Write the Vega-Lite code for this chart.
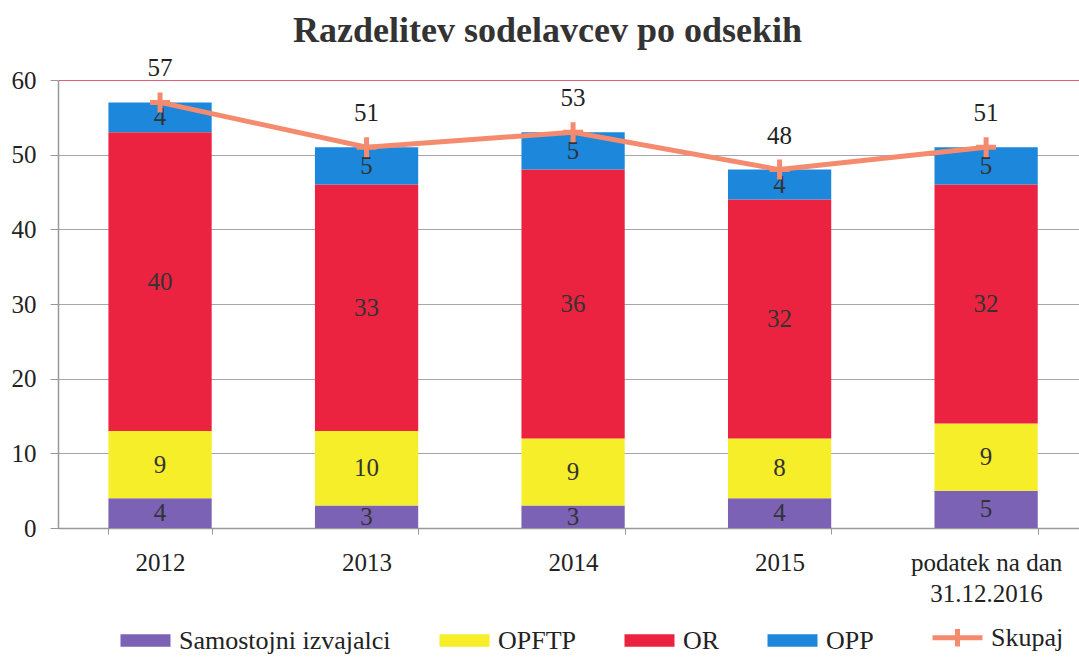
{
  "$schema": "https://vega.github.io/schema/vega-lite/v6.json",
  "width": 1021,
  "height": 448,
  "autosize": {"type": "none"},
  "padding": {"left": 58, "top": 80, "right": 0, "bottom": 131},
  "background": "white",
  "title": {
    "text": "Razdelitev sodelavcev  po odsekih",
    "font": "Liberation Serif",
    "fontSize": 36,
    "fontWeight": "bold",
    "color": "#333333",
    "anchor": "middle",
    "frame": "group",
    "dx": -21,
    "offset": 6
  },
  "datasets": {
    "bars": [
      {"leto": "2012", "kat": "Samostojni izvajalci", "n": 1, "st": 4},
      {"leto": "2012", "kat": "OPFTP", "n": 2, "st": 9},
      {"leto": "2012", "kat": "OR", "n": 3, "st": 40},
      {"leto": "2012", "kat": "OPP", "n": 4, "st": 4},
      {"leto": "2013", "kat": "Samostojni izvajalci", "n": 1, "st": 3},
      {"leto": "2013", "kat": "OPFTP", "n": 2, "st": 10},
      {"leto": "2013", "kat": "OR", "n": 3, "st": 33},
      {"leto": "2013", "kat": "OPP", "n": 4, "st": 5},
      {"leto": "2014", "kat": "Samostojni izvajalci", "n": 1, "st": 3},
      {"leto": "2014", "kat": "OPFTP", "n": 2, "st": 9},
      {"leto": "2014", "kat": "OR", "n": 3, "st": 36},
      {"leto": "2014", "kat": "OPP", "n": 4, "st": 5},
      {"leto": "2015", "kat": "Samostojni izvajalci", "n": 1, "st": 4},
      {"leto": "2015", "kat": "OPFTP", "n": 2, "st": 8},
      {"leto": "2015", "kat": "OR", "n": 3, "st": 32},
      {"leto": "2015", "kat": "OPP", "n": 4, "st": 4},
      {"leto": "podatek na dan 31.12.2016", "kat": "Samostojni izvajalci", "n": 1, "st": 5},
      {"leto": "podatek na dan 31.12.2016", "kat": "OPFTP", "n": 2, "st": 9},
      {"leto": "podatek na dan 31.12.2016", "kat": "OR", "n": 3, "st": 32},
      {"leto": "podatek na dan 31.12.2016", "kat": "OPP", "n": 4, "st": 5}
    ],
    "skupaj": [
      {"leto": "2012", "skupaj": 57},
      {"leto": "2013", "skupaj": 51},
      {"leto": "2014", "skupaj": 53},
      {"leto": "2015", "skupaj": 48},
      {"leto": "podatek na dan 31.12.2016", "skupaj": 51}
    ]
  },
  "encoding": {
    "x": {
      "field": "leto",
      "type": "nominal",
      "sort": null,
      "title": null,
      "scale": {"paddingInner": 0.5, "paddingOuter": 0.222, "align": 0.55},
      "axis": {
        "labelAngle": 0,
        "labelFont": "Liberation Serif",
        "labelFontSize": 25,
        "labelColor": "#222222",
        "labelLineHeight": 31,
        "labelPadding": 16,
        "labelExpr": "datum.value == 'podatek na dan 31.12.2016' ? ['podatek na dan', '31.12.2016'] : datum.label",
        "domainColor": "#999999",
        "domainWidth": 1.5,
        "tickColor": "#999999",
        "tickSize": 6,
        "tickBand": "extent",
        "grid": false
      }
    }
  },
  "layer": [
    {
      "data": {"name": "bars"},
      "mark": {"type": "bar"},
      "encoding": {
        "y": {
          "field": "st",
          "type": "quantitative",
          "stack": "zero",
          "title": null,
          "scale": {"domain": [0, 60], "nice": false},
          "axis": {
            "values": [0, 10, 20, 30, 40, 50, 60],
            "labelFont": "Liberation Serif",
            "labelFontSize": 25,
            "labelColor": "#222222",
            "labelPadding": 14,
            "tickSize": 8,
            "tickColor": "#999999",
            "domainColor": "#999999",
            "domainWidth": 1.5,
            "grid": true,
            "gridColor": {"condition": {"test": "datum.value == 60", "value": "#E0607A"}, "value": "#A8A4B4"},
            "gridWidth": 1
          }
        },
        "color": {
          "field": "kat",
          "type": "nominal",
          "scale": {
            "domain": ["Samostojni izvajalci", "OPFTP", "OR", "OPP", "Skupaj"],
            "range": ["#7B62B5", "#F7EE2A", "#EB2341", "#1C87DB", "#F58B6E"]
          },
          "legend": {
            "orient": "none",
            "legendX": 74.5,
            "legendY": 544.5,
            "direction": "horizontal",
            "title": null,
            "padding": 0,
            "labelFont": "Liberation Serif",
            "labelFontSize": 26,
            "labelColor": "#222222",
            "labelLimit": 400,
            "labelOffset": 20.5,
            "columnPadding": 48,
            "symbolSize": 625,
            "symbolType": "M-2,-0.5H2V0.5H-2Z",
            "symbolStrokeWidth": 0,
            "symbolOpacity": 1,
            "encode": {
              "symbols": {
                "update": {
                  "shape": {"signal": "datum.value === 'Skupaj' ? 'M-2,0H2M0,-0.7V0.7' : 'M-2,-0.5H2V0.5H-2Z'"},
                  "fillOpacity": {"signal": "datum.value === 'Skupaj' ? 0 : 1"},
                  "stroke": {"signal": "datum.value === 'Skupaj' ? '#F58B6E' : 'transparent'"},
                  "strokeWidth": {"signal": "datum.value === 'Skupaj' ? 5 : 0"}
                }
              }
            }
          }
        },
        "order": {"field": "n", "type": "quantitative"}
      }
    },
    {
      "data": {"name": "bars"},
      "mark": {"type": "text", "font": "Liberation Serif", "fontSize": 25, "color": "#333333", "baseline": "middle"},
      "encoding": {
        "y": {"field": "st", "type": "quantitative", "stack": "zero", "bandPosition": 0.5},
        "detail": {"field": "kat", "type": "nominal"},
        "order": {"field": "n", "type": "quantitative"},
        "text": {"field": "st", "type": "quantitative"}
      }
    },
    {
      "data": {"name": "skupaj"},
      "mark": {"type": "line", "strokeWidth": 5},
      "encoding": {
        "y": {"field": "skupaj", "type": "quantitative"},
        "color": {"datum": "Skupaj"}
      }
    },
    {
      "data": {"name": "skupaj"},
      "mark": {"type": "point", "shape": "M-1,0H1M0,-1V1", "size": 400, "strokeWidth": 5, "filled": false, "opacity": 1},
      "encoding": {
        "y": {"field": "skupaj", "type": "quantitative"},
        "color": {"datum": "Skupaj"}
      }
    },
    {
      "data": {"name": "skupaj"},
      "mark": {"type": "text", "font": "Liberation Serif", "fontSize": 25, "color": "#222222", "baseline": "middle", "dy": -34},
      "encoding": {
        "y": {"field": "skupaj", "type": "quantitative"},
        "text": {"field": "skupaj", "type": "quantitative"}
      }
    }
  ],
  "config": {
    "view": {"stroke": null}
  }
}
